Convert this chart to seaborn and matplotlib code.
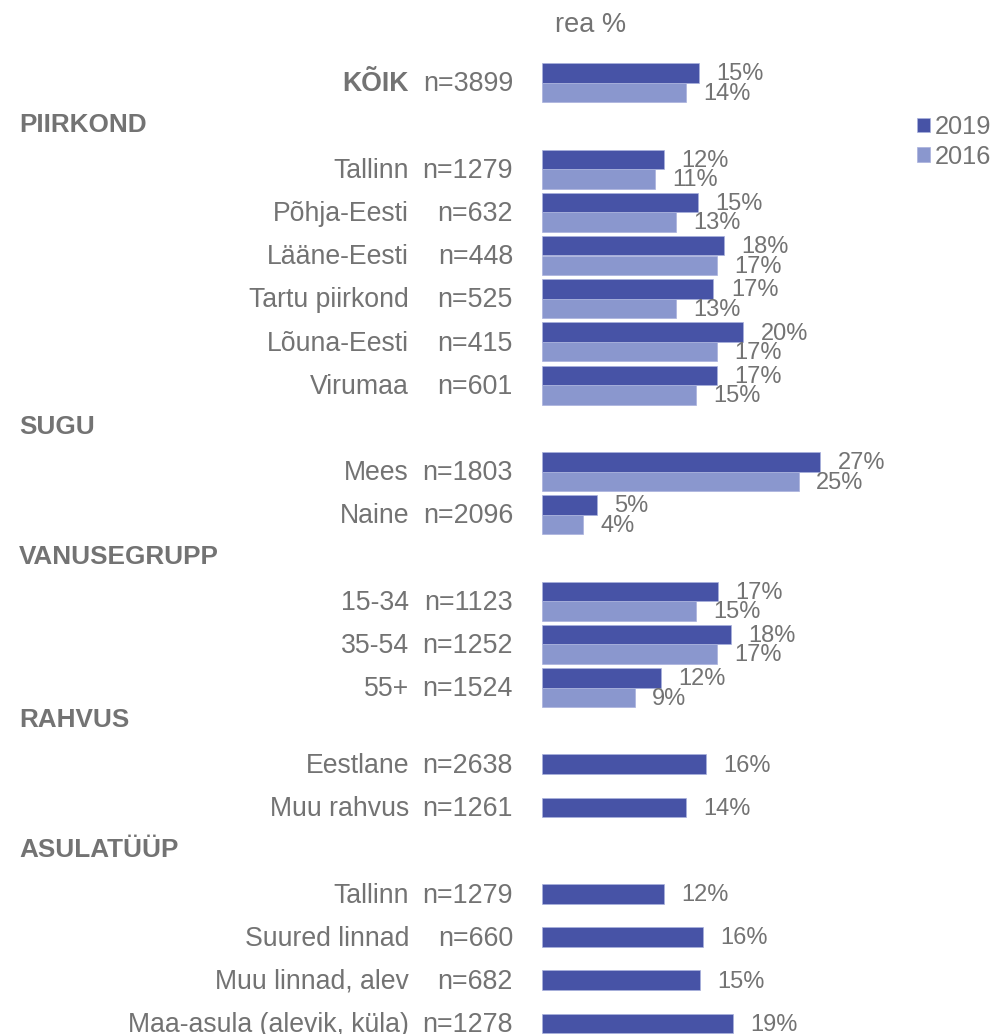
import numpy as np
import pandas as pd
import matplotlib
matplotlib.use("Agg")
import matplotlib.pyplot as plt
import matplotlib.transforms as mtransforms
import seaborn as sns

# -----------------------------
# Data (rea %)
# -----------------------------
labels = ["KÕIK", "Tallinn", "Põhja-Eesti", "Lääne-Eesti", "Tartu piirkond",
          "Lõuna-Eesti", "Virumaa", "Mees", "Naine", "15-34", "35-54", "55+",
          "Eestlane", "Muu rahvus", "Tallinn", "Suured linnad",
          "Muu linnad, alev", "Maa-asula (alevik, küla)"]
sections = ["", "PIIRKOND", "PIIRKOND", "PIIRKOND", "PIIRKOND", "PIIRKOND",
            "PIIRKOND", "SUGU", "SUGU", "VANUSEGRUPP", "VANUSEGRUPP",
            "VANUSEGRUPP", "RAHVUS", "RAHVUS", "ASULATÜÜP", "ASULATÜÜP",
            "ASULATÜÜP", "ASULATÜÜP"]
n_sizes = [3899, 1279, 632, 448, 525, 415, 601, 1803, 2096, 1123, 1252, 1524,
           2638, 1261, 1279, 660, 682, 1278]
val_2019 = [15.3, 11.9, 15.2, 17.7, 16.7, 19.6, 17.0, 27.1, 5.3, 17.1, 18.4,
            11.6, 16.0, 14.0, 11.9, 15.7, 15.4, 18.6]
val_2016 = [14.0, 11.0, 13.0, 17.0, 13.0, 17.0, 15.0, 25.0, 4.0, 15.0, 17.0,
            9.0, np.nan, np.nan, np.nan, np.nan, np.nan, np.nan]
years = ["2019", "2016"]

DARK = "#4753a6"
LIGHT = "#8a97ce"
GRAY = "#737373"

# -----------------------------
# Slot layout: one slot per row, plus one per section header
# -----------------------------
slots, header_slots = [], {}
s, prev = -1, None
for sec in sections:
    if sec != prev and sec:
        s += 1
        header_slots[sec] = s
    s += 1
    slots.append(s)
    prev = sec
n_slots = s + 1

df = pd.DataFrame({
    "slot": slots * 2,
    "pct": val_2019 + val_2016,
    "year": [years[0]] * len(labels) + [years[1]] * len(labels),
})

# -----------------------------
# Plot
# -----------------------------
sns.set_theme(style="white")
plt.rcParams["font.family"] = ["Liberation Sans", "DejaVu Sans"]

W, H = 992, 1034
fig = plt.figure(figsize=(W / 100, H / 100), dpi=100)
x0 = 542.3
ax = fig.add_axes([x0 / W, 0, 1 - x0 / W, 1])

sns.barplot(data=df, y="slot", x="pct", hue="year", hue_order=years,
            order=list(range(n_slots)), orient="h", palette=[DARK, LIGHT],
            saturation=1, width=0.9, edgecolor="#a9b1dd", linewidth=0.5, ax=ax)

px_per_unit = 10.25
slot_px = 43.2
top_px = 82.7
ax.set_xlim(0, (W - x0) / px_per_unit)
ax.set_ylim((H - top_px) / slot_px, -top_px / slot_px)
ax.set_axis_off()

for cont in ax.containers:
    anns = ax.bar_label(cont, fmt=lambda v: f"{v:.0f}%", padding=12,
                        color=GRAY, fontsize=17)
    for a in anns:
        a.set_position((12.5, -1))

# row labels
trans = mtransforms.blended_transform_factory(fig.transFigure, ax.transData)
shift = 0.225
dy = 0.04
for i, lab in enumerate(labels):
    y = slots[i] - (shift if np.isnan(val_2016[i]) else 0) + dy
    bold = sections[i] == ""
    ax.text(409 / W, y, lab, transform=trans, ha="right", va="center",
            fontsize=19.2, color=GRAY, fontweight="bold" if bold else "normal")
    ax.text(513 / W, y, f"n={n_sizes[i]}", transform=trans, ha="right",
            va="center", fontsize=19.4, color=GRAY)

for sec, hs in header_slots.items():
    only_2019 = all(np.isnan(val_2016[i]) for i in range(len(labels)) if sections[i] == sec)
    y = hs - (shift if only_2019 else 0) - 0.02
    ax.text(19 / W, y, sec, transform=trans, ha="left", va="center",
            fontsize=18.8, color=GRAY, fontweight="bold")

fig.text(591 / W, 1 - 25 / H, "rea %", ha="center", va="center",
         fontsize=19.5, color=GRAY)

sns.move_legend(ax, loc="upper left", bbox_to_anchor=(917 / W, 1 - 115 / H),
                bbox_transform=fig.transFigure, title=None, frameon=False,
                fontsize=18.3, handlelength=0.5, handleheight=0.5,
                handletextpad=0.18, labelspacing=0.22, borderpad=0,
                borderaxespad=0)
for t in ax.get_legend().get_texts():
    t.set_color(GRAY)

fig.savefig("out.png", dpi=100)
